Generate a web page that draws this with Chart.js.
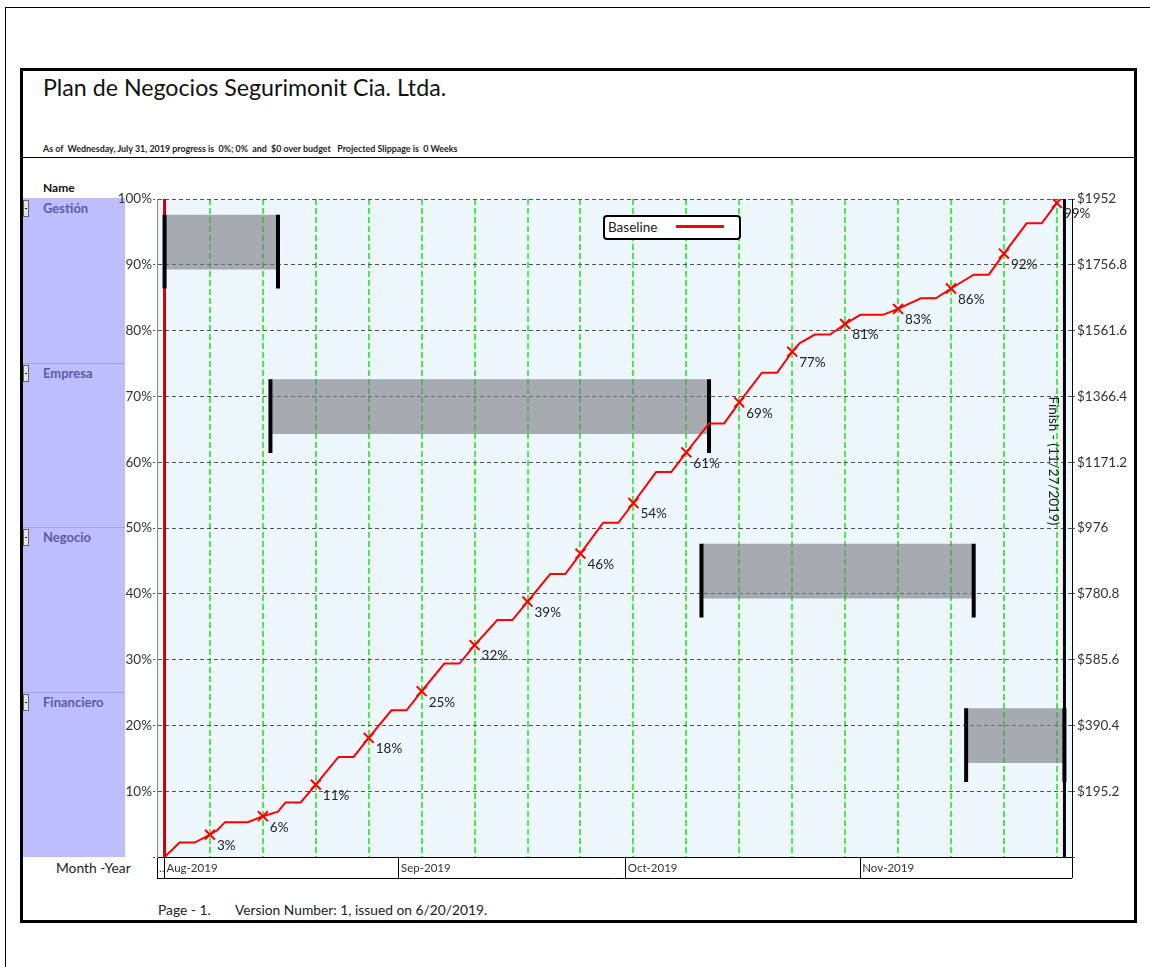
<!DOCTYPE html>
<html>
<head>
<meta charset="utf-8">
<script src="https://cdn.jsdelivr.net/npm/chart.js@4.4.1/dist/chart.umd.min.js"></script>
<style>
  body { margin: 0; background: #fff; font-family: Lato, "Open Sans", sans-serif; }
  #page { position: relative; width: 1150px; height: 967px; overflow: hidden; }
  .abs { position: absolute; white-space: pre; }
  .outer { left: 5px; top: 7px; width: 1300px; height: 1100px; border-left: 1px solid #000; border-top: 1px solid #000; }
  .frame { left: 20px; top: 68px; width: 1111px; height: 849px; border: 3px solid #000; }
  .hline { left: 23px; top: 157px; width: 1112px; height: 1px; background: #000; }
  .title { left: 43px; top: 72px; font-size: 23.2px; line-height: 30px; color: #111; }
  .sub { left: 43px; top: 144px; font-size: 8.9px; line-height: 10px; font-weight: bold; color: #222; }
  .name { left: 43px; top: 180px; font-size: 12px; line-height: 16px; font-weight: bold; color: #111; }
  .panel { left: 23px; top: 198px; width: 102px; height: 659px; background: #BEBEFF; }
  .sep { left: 23px; width: 102px; height: 1px; background: #A2A2EC; }
  .task { left: 43px; font-size: 13px; line-height: 16px; font-weight: bold; color: #5A5AA8; }
  .knob { left: 23px; width: 4px; height: 15px; border: 1px solid #666; background: #e6e6e6; }
  .knob::after { content: ""; position: absolute; left: 1px; top: 7px; width: 2px; height: 1px; background: #000; }
  .month { left: 56px; top: 860px; font-size: 13.8px; line-height: 16px; color: #222; }
  .foot { left: 158px; top: 902px; font-size: 13.8px; line-height: 16px; color: #222; }
  #chartBox { position: absolute; left: 100px; top: 180px; }
  .legend { left: 603px; top: 215px; width: 134px; height: 21px; border: 2px solid #000; border-radius: 4px; background: #fff; }
  .legend span { position: absolute; left: 3px; top: 2px; font-size: 13.5px; line-height: 17px; color: #222; }
  .legend i { position: absolute; left: 71px; top: 8px; width: 48px; height: 3px; background: #FF0000; }
</style>
</head>
<body>
<div id="page">
  <div class="abs outer"></div>
  <div class="abs frame"></div>
  <div class="abs hline"></div>
  <div class="abs title">Plan de Negocios Segurimonit Cia. Ltda.</div>
  <div class="abs sub">As of  Wednesday, July 31, 2019 progress is  0%; 0%  and  $0 over budget   Projected Slippage is  0 Weeks</div>
  <div class="abs name">Name</div>
  <div class="abs panel"></div>
  <div id="rows"></div>
  <div class="abs month">Month -Year</div>
  <div class="abs foot">Page - 1.       Version Number: 1, issued on 6/20/2019.</div>
  <div id="chartBox"><canvas id="chart" width="1050" height="700"></canvas></div>
  <div class="abs legend"><span>Baseline</span><i></i></div>
</div>
<script>
// días contados desde el 31/07/2019 (día 0)
const taskNames = ["Gestión", "Empresa", "Negocio", "Financiero"];
const taskStart = [1, 15, 72, 107];
const taskEnd = [16, 73, 108, 120];

const progressDays = [1, 3, 5, 7, 8, 9, 12, 14, 16, 17, 19, 21, 24, 26, 28, 31, 33, 35, 38, 40, 42, 45, 47, 49,
  52, 54, 56, 59, 61, 63, 66, 68, 70, 73, 75, 77, 80, 82, 84, 85, 87, 89, 91, 93, 96, 98, 101, 103, 105,
  108, 110, 112, 115, 117, 119];
const progressPct = [0, 2.2, 2.2, 3.4, 4.1, 5.3, 5.3, 6.2, 6.9, 8.3, 8.3, 11.0, 15.2, 15.2, 18.1, 22.3, 22.3, 25.2,
  29.4, 29.4, 32.2, 36.0, 36.0, 38.8, 43.0, 43.0, 46.1, 50.8, 50.8, 53.8, 58.5, 58.5, 61.5, 65.9, 65.9, 69.1,
  73.6, 73.6, 76.8, 78.1, 79.4, 79.4, 81.0, 82.4, 82.4, 83.3, 84.9, 84.9, 86.4, 88.5, 88.5, 91.7, 96.3, 96.3, 99.4];

const weekDays = [7, 14, 21, 28, 35, 42, 49, 56, 63, 70, 77, 84, 91, 98, 105, 112, 119];
const markerPct = [3.4, 6.2, 11.0, 18.1, 25.2, 32.2, 38.8, 46.1, 53.8, 61.5, 69.1, 76.8, 81.0, 83.3, 86.4, 91.7, 99.4];
const markerLabels = ["3%", "6%", "11%", "18%", "25%", "32%", "39%", "46%", "54%", "61%", "69%", "77%", "81%", "83%", "86%", "92%", "99%"];

const monthTicks = [0, 1, 32, 62, 93, 121];
const monthLabels = ["..", "Aug-2019", "Sep-2019", "Oct-2019", "Nov-2019", ""];
const pctTicks = [0, 10, 20, 30, 40, 50, 60, 70, 80, 90, 100];
const costTicks = [0, 195.2, 390.4, 585.6, 780.8, 976, 1171.2, 1366.4, 1561.6, 1756.8, 1952];

const statusDay = 1;
const finishDay = 120;
const finishLabel = "Finish - (11/27/2019)";

// panel izquierdo con las tareas
const rowsEl = document.getElementById("rows");
taskNames.forEach((name, i) => {
  const top = 199 + i * 164.5;
  if (i > 0) rowsEl.insertAdjacentHTML("beforeend", `<div class="abs sep" style="top:${top - 1}px"></div>`);
  rowsEl.insertAdjacentHTML("beforeend", `<div class="abs knob" style="top:${top + 1}px"></div>`);
  rowsEl.insertAdjacentHTML("beforeend", `<div class="abs task" style="top:${top + 1}px">${name}</div>`);
});

Chart.defaults.font.family = 'Lato, "Open Sans", sans-serif';
Chart.defaults.font.size = 13.5;
Chart.defaults.color = "#333";

const datasets = [];
datasets.push({
  label: "markers",
  data: weekDays.map((d, i) => ({ x: d, y: markerPct[i] })),
  showLine: false,
  pointStyle: "crossRot",
  pointRadius: 7,
  pointBorderColor: "#FF0000",
  pointBorderWidth: 2,
  order: 0
});
datasets.push({
  label: "Baseline",
  data: progressDays.map((d, i) => ({ x: d, y: progressPct[i] })),
  borderColor: "#FF0000",
  borderWidth: 2,
  pointRadius: 0,
  order: 1
});
taskNames.forEach((name, i) => {
  const top = 100 - 25 * i - 2.4;
  const bot = top - 8.3;
  const tickBot = bot - 2.9;
  datasets.push({
    label: name,
    data: [{ x: taskStart[i], y: top }, { x: taskEnd[i], y: top }],
    borderWidth: 0,
    pointRadius: 0,
    fill: { value: bot },
    backgroundColor: "rgba(118,122,127,0.6)",
    order: 5
  });
  [taskStart[i], taskEnd[i]].forEach(d => datasets.push({
    data: [{ x: d, y: top }, { x: d, y: tickBot }],
    borderColor: "#000",
    borderWidth: 4,
    pointRadius: 0,
    order: 2
  }));
});
datasets.push({
  data: [{ x: statusDay, y: 0 }, { x: statusDay, y: 100 }],
  borderColor: "#CC0000",
  borderWidth: 3,
  pointRadius: 0,
  order: 3
});
datasets.push({
  data: [{ x: finishDay, y: 0 }, { x: finishDay, y: 100 }],
  borderColor: "#000",
  borderWidth: 3,
  pointRadius: 0,
  order: 2
});

const decor = {
  id: "decor",
  beforeDraw(chart) {
    const { ctx, chartArea: a } = chart;
    ctx.save();
    ctx.fillStyle = "#EEF6FE";
    ctx.fillRect(a.left, a.top, a.right - a.left, a.bottom - a.top);
    ctx.restore();
  },
  afterDraw(chart) {
    const { ctx, chartArea: a, scales } = chart;
    ctx.save();
    // borde inferior de la fila de meses
    ctx.strokeStyle = "#000";
    ctx.lineWidth = 1;
    ctx.beginPath();
    ctx.moveTo(scales.x.left, a.bottom + 21.5);
    ctx.lineTo(scales.x.right, a.bottom + 21.5);
    ctx.stroke();
    // etiquetas de porcentaje junto a cada marca
    ctx.fillStyle = "#222";
    ctx.font = '13.5px Lato, "Open Sans", sans-serif';
    ctx.textBaseline = "middle";
    ctx.textAlign = "left";
    chart.getDatasetMeta(0).data.forEach((pt, i) => {
      ctx.fillText(markerLabels[i], pt.x + 7, pt.y + 11);
    });
    // texto vertical de fin
    const fx = scales.x.getPixelForValue(finishDay) - 11;
    const fy = scales.y.getPixelForValue(60.2);
    ctx.translate(fx, fy);
    ctx.rotate(Math.PI / 2);
    ctx.textAlign = "center";
    ctx.fillText(finishLabel, 0, 0);
    ctx.restore();
  }
};

new Chart(document.getElementById("chart"), {
  type: "line",
  data: { datasets },
  plugins: [decor],
  options: {
    responsive: false,
    animation: false,
    events: [],
    layout: { padding: { top: 19, bottom: 2, left: 0, right: 0 } },
    plugins: { legend: { display: false }, tooltip: { enabled: false } },
    scales: {
      x: {
        type: "linear", min: 0, max: 121, position: "bottom",
        afterBuildTicks: s => { s.ticks = monthTicks.map(v => ({ value: v })); },
        afterFit: s => { s.height = 21; },
        ticks: {
          autoSkip: false, maxRotation: 0, align: "start", padding: -17, labelOffset: 2,
          font: { size: 11.5 }, color: "#333",
          callback: (v, i) => monthLabels[i]
        },
        grid: { drawOnChartArea: false, drawTicks: true, tickLength: 21, tickColor: "#000", tickWidth: 1 },
        border: { display: true, color: "#000", width: 1 }
      },
      x2: {
        type: "linear", min: 0, max: 121, position: "top",
        afterBuildTicks: s => { s.ticks = weekDays.map(v => ({ value: v })); },
        afterFit: s => { s.height = 0; },
        ticks: { display: false },
        grid: { color: "#4DEA4D", lineWidth: 2, drawTicks: false },
        border: { display: false, dash: [6, 3] }
      },
      y: {
        type: "linear", min: 0, max: 100, position: "left",
        afterBuildTicks: s => { s.ticks = pctTicks.map(v => ({ value: v })); },
        afterFit: s => { s.width = 57; },
        ticks: { padding: 1, color: "#333", callback: v => v === 0 ? "" : v + "%" },
        grid: { color: "#555", tickLength: 4, tickBorderDash: [2, 2] },
        border: { display: true, color: "#888", dash: [4, 3] }
      },
      y2: {
        type: "linear", min: 0, max: 1952, position: "right",
        afterBuildTicks: s => { s.ticks = costTicks.map(v => ({ value: v })); },
        afterFit: s => { s.width = 78; },
        ticks: { padding: 1, color: "#333", callback: v => v === 0 ? "" : "$" + v },
        grid: { drawOnChartArea: false, color: "#555", tickLength: 4, tickBorderDash: [2, 2] },
        border: { display: true, color: "#000" }
      }
    }
  }
});
</script>
</body>
</html>
